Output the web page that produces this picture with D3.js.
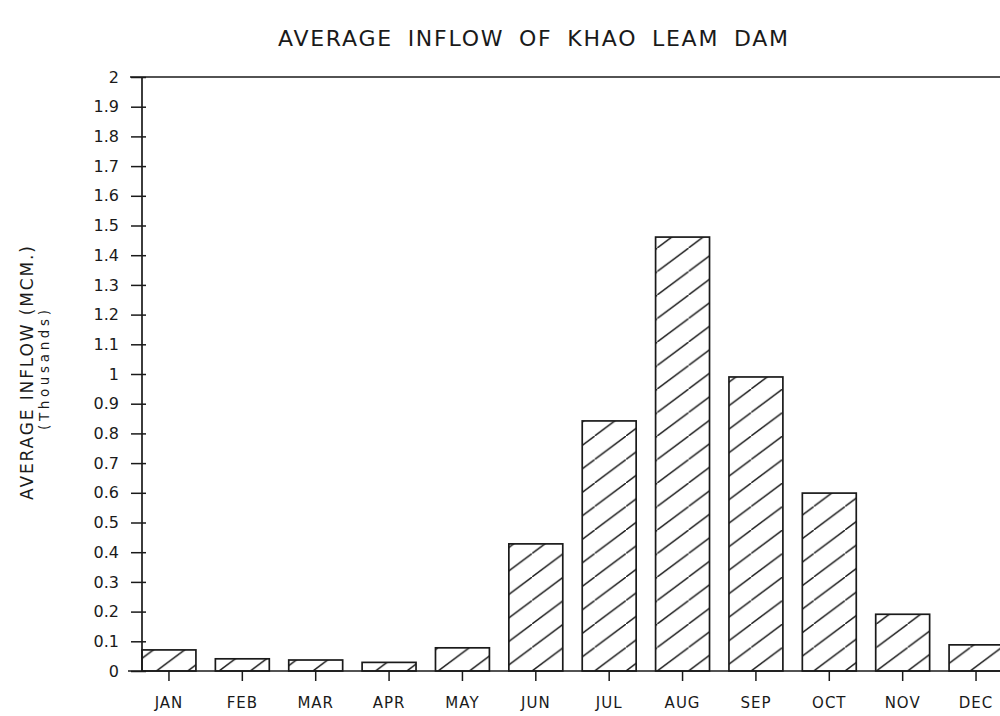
<!DOCTYPE html>
<html>
<head>
<meta charset="utf-8">
<script src="https://cdn.jsdelivr.net/npm/d3@7/dist/d3.min.js"></script>
<style>
  html, body { margin: 0; padding: 0; background: #ffffff; }
  svg { display: block; }
  text { font-family: "DejaVu Sans", "Liberation Sans", sans-serif; fill: #1a1a1a; }
</style>
</head>
<body>
<svg id="chart" width="1000" height="716"></svg>
<script>
const months = ["JAN","FEB","MAR","APR","MAY","JUN","JUL","AUG","SEP","OCT","NOV","DEC"];
const inflow = [0.071, 0.041, 0.037, 0.029, 0.078, 0.428, 0.842, 1.461, 0.99, 0.599, 0.191, 0.088];
const yTicks = [0,0.1,0.2,0.3,0.4,0.5,0.6,0.7,0.8,0.9,1,1.1,1.2,1.3,1.4,1.5,1.6,1.7,1.8,1.9,2];
const yTickLabels = ["0","0.1","0.2","0.3","0.4","0.5","0.6","0.7","0.8","0.9","1","1.1","1.2","1.3","1.4","1.5","1.6","1.7","1.8","1.9","2"];
const titleText = "AVERAGE INFLOW OF KHAO LEAM DAM";
const yLabel = "AVERAGE INFLOW (MCM.)";
const yLabel2 = "(Thousands)";

const svg = d3.select("#chart");
const ink = "#1a1a1a";
const plotLeft = 142, plotBottom = 671, plotTop = 77, plotRight = 1003;

const x = d3.scaleBand().domain(months).range([plotLeft, plotRight]).paddingInner(0.265).paddingOuter(0);
const y = d3.scaleLinear().domain([0, 2]).range([plotBottom, plotTop]);

// hatch pattern
const defs = svg.append("defs");
const pw = 31.3, ph = 23.5;
const pat = defs.append("pattern").attr("id", "hatch")
  .attr("patternUnits", "userSpaceOnUse").attr("width", pw).attr("height", ph)
  .attr("x", 0).attr("y", plotBottom % ph);
pat.append("path")
  .attr("d", `M${-pw},${2*ph} L${2*pw},${-ph}`)
  .attr("stroke", ink).attr("stroke-width", 1.4).attr("fill", "none");

// title
svg.append("text").attr("x", 278).attr("y", 46)
  .attr("font-size", 22).attr("textLength", 510).attr("lengthAdjust", "spacing")
  .attr("word-spacing", 6).text(titleText);

// bars
svg.append("g").selectAll("rect").data(months).join("rect")
  .attr("x", d => x(d))
  .attr("y", (d, i) => y(inflow[i]))
  .attr("width", x.bandwidth())
  .attr("height", (d, i) => y(0) - y(inflow[i]))
  .attr("fill", "url(#hatch)")
  .attr("stroke", ink).attr("stroke-width", 1.7);

// y axis
const yAxis = svg.append("g").attr("transform", `translate(${plotLeft},0)`)
  .call(d3.axisLeft(y).tickValues(yTicks).tickFormat((d, i) => yTickLabels[i]).tickSize(10).tickPadding(13));
yAxis.select(".domain").remove();
yAxis.selectAll(".tick line").attr("x1", 4).attr("x2", -11).attr("stroke", ink).attr("stroke-width", 1.5);
yAxis.selectAll(".tick text").attr("font-size", 16).attr("font-family", "DejaVu Sans, sans-serif").attr("fill", "#1a1a1a");
svg.append("line").attr("x1", plotLeft).attr("x2", plotLeft).attr("y1", plotTop).attr("y2", plotBottom)
  .attr("stroke", ink).attr("stroke-width", 1.7);

// top border line
svg.append("line").attr("x1", 130).attr("x2", 1000).attr("y1", y(2)).attr("y2", y(2))
  .attr("stroke", ink).attr("stroke-width", 1.7);

// x axis
const xAxis = svg.append("g").attr("transform", `translate(0,${plotBottom})`)
  .call(d3.axisBottom(x).tickSize(10).tickPadding(16));
xAxis.select(".domain").remove();
xAxis.selectAll(".tick line").attr("stroke", ink).attr("stroke-width", 1.5);
xAxis.selectAll(".tick text").attr("font-size", 15).attr("letter-spacing", 1)
  .attr("font-family", "DejaVu Sans, sans-serif").attr("fill", "#1a1a1a");
svg.append("line").attr("x1", 128).attr("x2", 1000).attr("y1", plotBottom).attr("y2", plotBottom)
  .attr("stroke", ink).attr("stroke-width", 1.7);

// y labels
const midY = (plotTop + plotBottom) / 2;
svg.append("text").attr("transform", `translate(33,${midY + 126}) rotate(-90)`)
  .attr("font-size", 17).attr("textLength", 254).attr("lengthAdjust", "spacing").text(yLabel);
svg.append("text").attr("transform", `translate(49,${midY + 56}) rotate(-90)`)
  .attr("font-size", 13.5).attr("textLength", 120).attr("lengthAdjust", "spacing").text(yLabel2);
</script>
</body>
</html>
